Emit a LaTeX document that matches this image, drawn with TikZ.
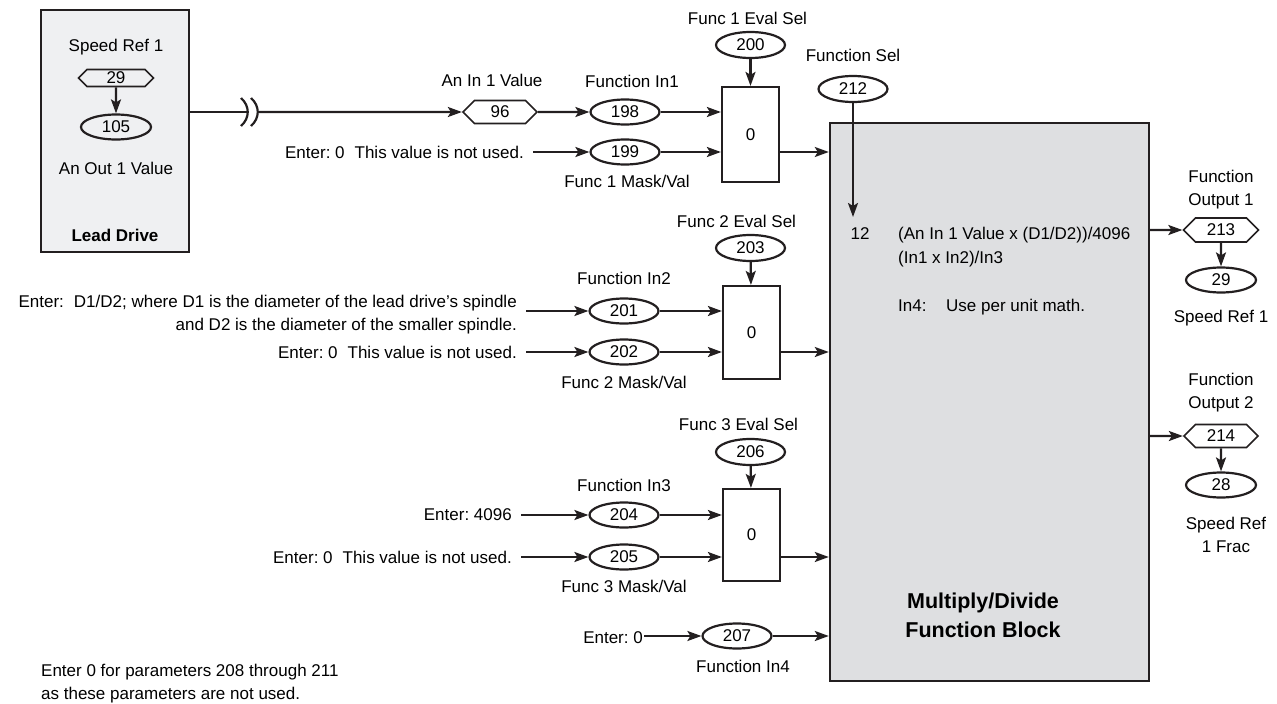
\documentclass[tikz,border=0pt]{standalone}
\usepackage{fontspec}
\setmainfont{Liberation Sans}
\usepackage{tikz}
\usetikzlibrary{positioning,arrows.meta,shapes.geometric,shapes.symbols}
\definecolor{drvink}{HTML}{231F20}
\definecolor{drvlight}{HTML}{EFF0F2}
\definecolor{drvgray}{HTML}{DEDFE1}
\newcommand{\lbfont}{\fontsize{17}{23}\selectfont}
\frenchspacing

\begin{document}
\begin{tikzpicture}[x=1pt, y=-1pt,
   node distance=8pt,
   font=\lbfont,
   parm/.style={ellipse, draw=drvink, line width=2.2pt, minimum width=69pt,
                minimum height=25pt, inner sep=0pt},
   linkp/.style={signal, signal to=east and west, draw=drvink, line width=1.6pt,
                 minimum width=74pt, minimum height=23pt, inner sep=0pt},
   selbox/.style={draw=drvink, line width=2.2pt, fill=white, minimum width=57pt,
                  minimum height=93pt, inner sep=0pt},
   lbl/.style={inner sep=0pt, text height=12pt, text depth=3pt},
   mlbl/.style={inner sep=0pt, align=center},
   entry/.style={inner xsep=9pt, inner ysep=0pt, anchor=east, align=right},
   wire/.style={draw=drvink, line width=2.2pt},
   >={Stealth[length=14pt,width=10pt,inset=3pt]}]
  \useasboundingbox (0,0) rectangle (1277,704);

  % function block
  \node[draw=drvink, line width=2.4pt, fill=drvgray, minimum width=319pt,
        minimum height=558pt] (mdb) at (989.5,402) {};
  \node[font=\fontsize{21.5}{29}\selectfont\bfseries, align=center,
        above=41pt of mdb.south, xshift=-6.5pt] (mdname) {Multiply/Divide\\Function Block};

  % lead drive
  \node[draw=drvink, line width=2.4pt, fill=drvlight, minimum width=148pt,
        minimum height=242pt] (lead) at (115,131) {};
  \node[linkp, minimum width=75pt, minimum height=17pt] (h29) at (116,78) {29};
  \node[parm, minimum width=70pt] (e105) at (116,127) {105};
  \node[lbl, above=14pt of h29] {Speed Ref 1};
  \node[lbl, below=22pt of e105] {An Out 1 Value};
  \node[lbl, font=\lbfont\bfseries, above=9pt of lead.south] {Lead Drive};
  \draw[wire,->] (h29) -- (e105);

  % link with break
  \coordinate (brkA) at (248,112);
  \coordinate (brkB) at (258,112);
  \node[linkp] (h96) at (500,112) {96};
  \node[lbl, above=10pt of h96, xshift=-8pt] {An In 1 Value};
  \draw[wire] (lead.east |- brkA) -- (brkA);
  \draw[wire] (241,98) .. controls (250,106) and (250,118) .. (241,126);
  \draw[wire] (251,98) .. controls (260,106) and (260,118) .. (251,126);
  \draw[wire,->] (brkB) -- (h96);

  % function 1
  \node[parm] (e198) at (625,112) {198};
  \node[lbl, above=8pt of e198, xshift=7pt] {Function In1};
  \node[parm] (e199) at (625,152) {199};
  \node[lbl, below=10pt of e199, xshift=2pt] {Func 1 Mask/Val};
  \node[entry] (t199) at (533,152) {Enter: 0\hspace{10pt}This value is not used.};
  \node[selbox, minimum height=95pt] (b1) at (750.5,134.5) {0};
  \node[parm, minimum height=26pt] (e200) at (750.5,45) {200};
  \node[lbl, above=3pt of e200, xshift=-3pt] {Func 1 Eval Sel};
  \draw[wire,->] (h96) -- (e198);
  \draw[wire,->] (t199) -- (e199);
  \draw[wire,->] (e198) -- (b1.west |- e198);
  \draw[wire,->] (e199) -- (b1.west |- e199);
  \draw[wire,->] (e200) -- (b1);
  \draw[wire,->] (b1.east |- e199) -- (mdb.west |- e199);

  % function 2
  \node[parm] (e201) at (624,311) {201};
  \node[lbl, above=10pt of e201] {Function In2};
  \node[parm] (e202) at (624,352) {202};
  \node[lbl, below=11pt of e202] {Func 2 Mask/Val};
  \node[entry] (t201) at (526,315) {Enter:\hspace{10pt}D1/D2; where D1 is the diameter of the lead drive's spindle\\and D2 is the diameter of the smaller spindle.};
  \node[entry] (t202) at (526,352) {Enter: 0\hspace{10pt}This value is not used.};
  \node[selbox] (b2) at (751.5,332.5) {0};
  \node[parm, minimum height=26pt] (e203) at (750.5,248) {203};
  \node[lbl, above=3pt of e203, xshift=-14pt] {Func 2 Eval Sel};
  \draw[wire,->] (t201.east |- e201) -- (e201);
  \draw[wire,->] (t202) -- (e202);
  \draw[wire,->] (e201) -- (b2.west |- e201);
  \draw[wire,->] (e202) -- (b2.west |- e202);
  \draw[wire,->] (e203) -- (b2);
  \draw[wire,->] (b2.east |- e202) -- (mdb.west |- e202);

  % function 3
  \node[parm] (e204) at (624,515) {204};
  \node[lbl, above=7pt of e204] {Function In3};
  \node[parm] (e205) at (624,557) {205};
  \node[lbl, below=10pt of e205] {Func 3 Mask/Val};
  \node[entry] (t204) at (521,515) {Enter: 4096};
  \node[entry] (t205) at (521,557) {Enter: 0\hspace{10pt}This value is not used.};
  \node[selbox, minimum height=92pt] (b3) at (751.5,535) {0};
  \node[parm, minimum height=26pt] (e206) at (750.5,452) {206};
  \node[lbl, above=4pt of e206, xshift=-12pt] {Func 3 Eval Sel};
  \draw[wire,->] (t204) -- (e204);
  \draw[wire,->] (t205) -- (e205);
  \draw[wire,->] (e204) -- (b3.west |- e204);
  \draw[wire,->] (e205) -- (b3.west |- e205);
  \draw[wire,->] (e206) -- (b3);
  \draw[wire,->] (b3.east |- e205) -- (mdb.west |- e205);

  % function in4
  \node[parm] (e207) at (737,636) {207};
  \node[lbl, below=11pt of e207, xshift=6pt] {Function In4};
  \node[entry, inner xsep=1pt] (t207) at (644,638) {Enter: 0};
  \draw[wire,->] (t207.east |- e207) -- (e207);
  \draw[wire,->] (e207) -- (mdb.west |- e207);

  % function select and formulas
  \node[parm, minimum height=26pt] (e212) at (853,89) {212};
  \node[lbl, above=10pt of e212] {Function Sel};
  \coordinate (selend) at (853,217);
  \draw[wire,->] (e212) -- (selend);
  \node[lbl, anchor=base] (n12) at (860,239) {12};
  \node[lbl, anchor=base west] (fa) at (898,239) {(An In 1 Value x (D1/D2))/4096};
  \node[lbl, anchor=base west] (fb) at (898,263) {(In1 x In2)/In3};
  \node[lbl, anchor=base west] (fc) at (898,311) {\makebox[48pt][l]{In4:}Use per unit math.};

  % outputs
  \node[linkp, minimum width=75pt, minimum height=24pt] (h213) at (1221,230) {213};
  \node[parm, minimum width=70pt] (e29) at (1221,280) {29};
  \node[mlbl, above=8pt of h213] {Function\\Output 1};
  \node[lbl, below=17pt of e29] {Speed Ref 1};
  \draw[wire,->] (mdb.east |- h213) -- (h213);
  \draw[wire,->] (h213) -- (e29);

  \node[linkp] (h214) at (1221,436) {214};
  \node[parm, minimum width=70pt] (e28) at (1221,485) {28};
  \node[mlbl, above=11pt of h214] {Function\\Output 2};
  \node[mlbl, below=18pt of e28, xshift=5pt] {Speed Ref\\1 Frac};
  \draw[wire,->] (mdb.east |- h214) -- (h214);
  \draw[wire,->] (h214) -- (e28);

  % note
  \node[mlbl, align=left, anchor=north west] (note) at (41,663.6)
       {Enter 0 for parameters 208 through 211\\as these parameters are not used.};
\end{tikzpicture}
\end{document}
